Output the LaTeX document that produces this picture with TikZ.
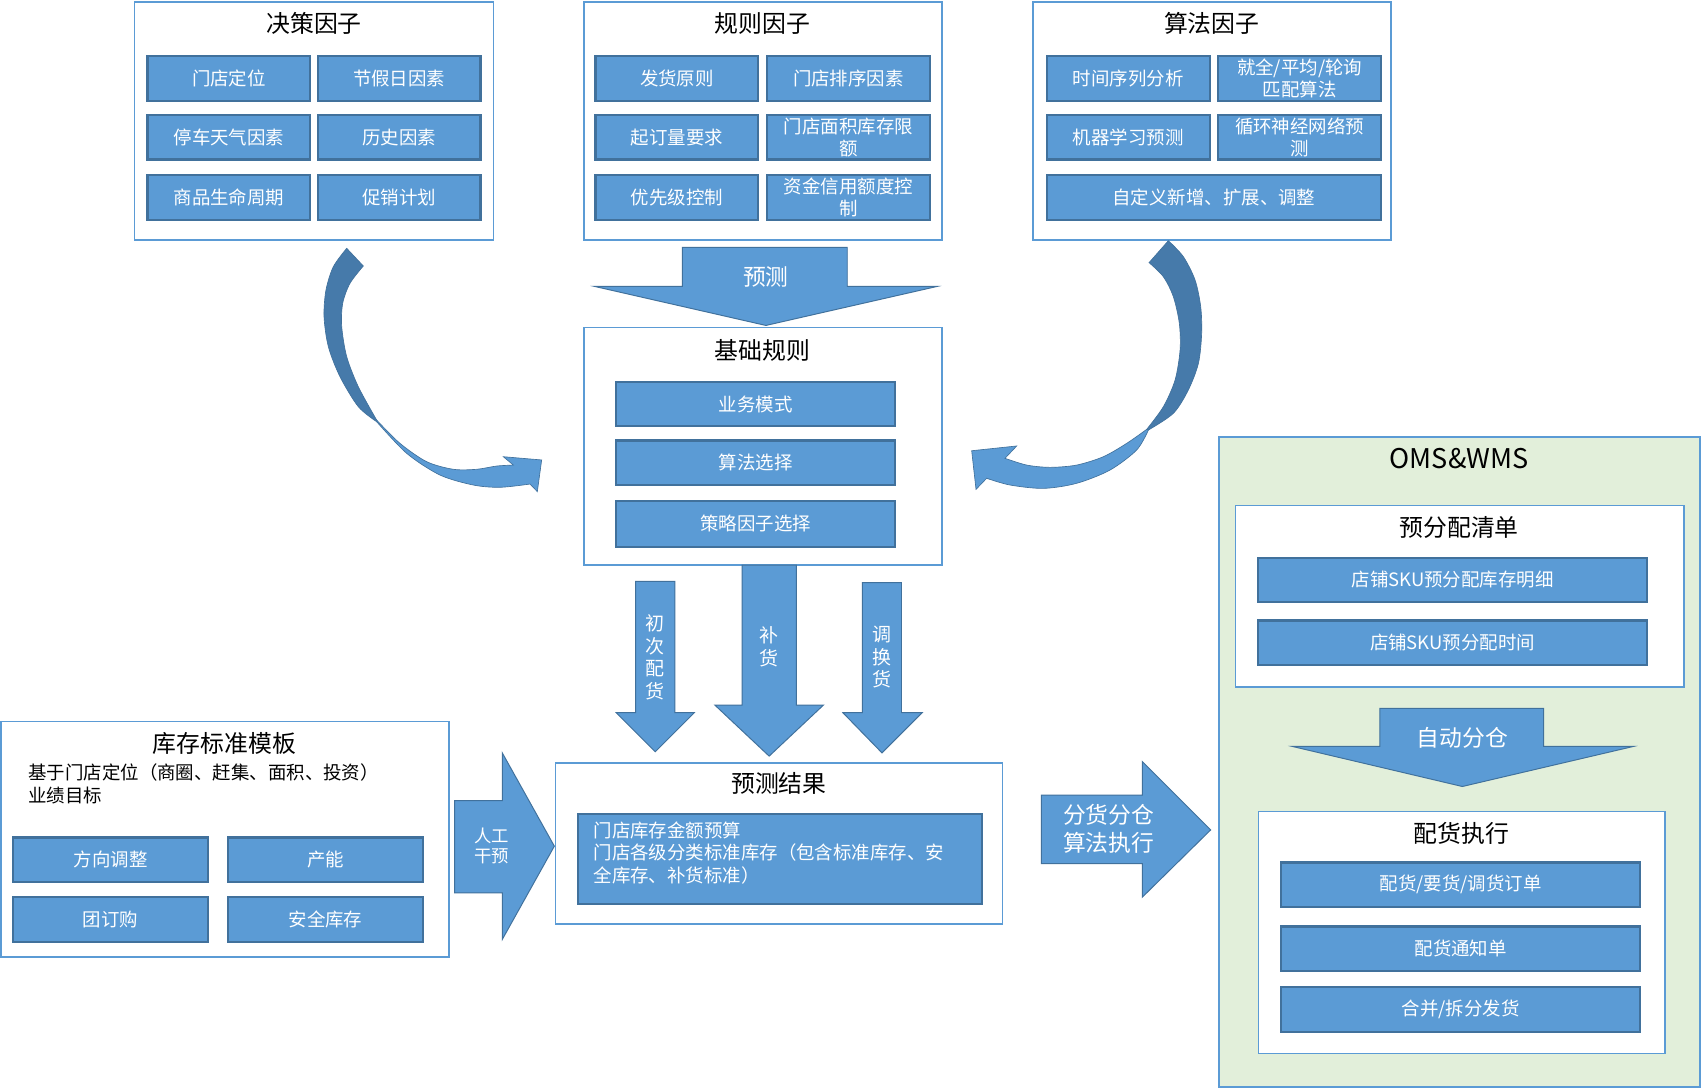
\documentclass[tikz,border=0pt]{standalone}
\usepackage{fontspec}
\setmainfont{Noto Sans CJK SC}
\definecolor{bfill}{HTML}{5B9BD5}
\definecolor{bdark}{HTML}{41719C}
\definecolor{gfill}{HTML}{E2EFDA}
\definecolor{cdark}{HTML}{467AAA}
\tikzset{
  obox/.style={draw=bfill, line width=1.6pt, fill=white, inner sep=0pt},
  gbox/.style={draw=bfill, line width=1.6pt, fill=gfill, inner sep=0pt},
  ibox/.style={draw=bdark, line width=2pt, fill=bfill, text=white, inner sep=0pt,
    font=\fontsize{17}{20}\selectfont, align=center},
  ttl/.style={font=\fontsize{22}{26}\selectfont, text=black, inner sep=0pt},
  plain/.style={font=\fontsize{17}{21}\selectfont, text=black, inner sep=0pt, align=left},
  barrow/.style={fill=bfill, draw=bdark, line width=0.9pt, line join=miter},
  atext/.style={text=white, inner sep=0pt, align=center, font=\fontsize{21}{25}\selectfont},
  vtext/.style={text=white, inner sep=0pt, align=center, font=\fontsize{17.5}{20.7}\selectfont},
  cdarkpart/.style={fill=cdark, draw=bdark, line width=0.6pt},
  clightpart/.style={fill=bfill, draw=bdark, line width=0.6pt, line join=miter},
}
\newcommand\mkbox[7]{\node[#1, minimum width={(#5)-(#3)}, minimum height={(#6)-(#4)}] (#2) at ({((#3)+(#5))/2},{((#4)+(#6))/2}) {#7};}
\begin{document}
\begin{tikzpicture}[x=1pt,y=-1pt]
\useasboundingbox (0,0) rectangle (1568,1003);
\fill[white] (0,0) rectangle (1568,1003);

% ---------- 决策因子 ----------
\mkbox{obox}{jc}{124}{2}{455}{221}{}
\node[ttl] (jct) at (289.5,22) {决策因子};
\mkbox{ibox}{jc1}{136}{52}{286}{93}{门店定位}
\mkbox{ibox}{jc2}{293}{52}{443}{93}{节假日因素}
\mkbox{ibox}{jc3}{136}{106}{286}{147}{停车天气因素}
\mkbox{ibox}{jc4}{293}{106}{443}{147}{历史因素}
\mkbox{ibox}{jc5}{136}{161}{286}{203}{商品生命周期}
\mkbox{ibox}{jc6}{293}{161}{443}{203}{促销计划}

% ---------- 规则因子 ----------
\mkbox{obox}{gz}{538}{2}{868}{221}{}
\node[ttl] (gzt) at (703,22) {规则因子};
\mkbox{ibox}{gz1}{549}{52}{699}{93}{发货原则}
\mkbox{ibox}{gz2}{707}{52}{857}{93}{门店排序因素}
\mkbox{ibox}{gz3}{549}{106}{699}{147}{起订量要求}
\mkbox{ibox}{gz4}{707}{106}{857}{147}{门店面积库存限\\额}
\mkbox{ibox}{gz5}{549}{161}{699}{203}{优先级控制}
\mkbox{ibox}{gz6}{707}{161}{857}{203}{资金信用额度控\\制}

% ---------- 算法因子 ----------
\mkbox{obox}{sf}{952}{2}{1282}{221}{}
\node[ttl] (sft) at (1117,22) {算法因子};
\mkbox{ibox}{sf1}{965}{52}{1115}{93}{时间序列分析}
\mkbox{ibox}{sf2}{1123}{52}{1273}{93}{就全/平均/轮询\\匹配算法}
\mkbox{ibox}{sf3}{965}{106}{1115}{147}{机器学习预测}
\mkbox{ibox}{sf4}{1123}{106}{1273}{147}{循环神经网络预\\测}
\mkbox{ibox}{sf5}{965}{161}{1273}{203}{自定义新增、扩展、调整}

% ---------- 基础规则 ----------
\mkbox{obox}{jz}{538}{302}{868}{521}{}
\node[ttl] (jzt) at (703,323) {基础规则};
\mkbox{ibox}{jz1}{568}{352}{825}{393}{业务模式}
\mkbox{ibox}{jz2}{568}{406}{825}{447}{算法选择}
\mkbox{ibox}{jz3}{568}{462}{825}{504}{策略因子选择}

% ---------- 预测 arrow ----------
\draw[barrow] (629,228) -- (781,228) -- (781,264) -- (864,264) -- (706,300) -- (548,264) -- (629,264) -- cycle;
\node[atext] (yct) at (706,255) {预测};

% ---------- 预测结果 ----------
\mkbox{obox}{yj}{512}{703}{924}{852}{}
\node[ttl] (yjt) at (718,722) {预测结果};
\mkbox{ibox}{yj1}{533}{750}{905}{833}{}
\node[plain, text=white, anchor=north west, font=\fontsize{17}{21}\selectfont] (yj1t) at (547,757)
  {门店库存金额预算\\门店各级分类标准库存（包含标准库存、安\\全库存、补货标准）};

% ---------- vertical arrows ----------
\draw[barrow] (586,536) -- (622,536) -- (622,657) -- (640,657) -- (604,693) -- (568,657) -- (586,657) -- cycle;
\node[vtext] (a1t) at (604,606) {初\\次\\配\\货};
\draw[barrow] (684,521) -- (734,521) -- (734,650) -- (759,650) -- (709,697) -- (659,650) -- (684,650) -- cycle;
\node[vtext] (a2t) at (709,596) {补\\货};
\draw[barrow] (795,537) -- (831,537) -- (831,657) -- (850,657) -- (813,694) -- (777,657) -- (795,657) -- cycle;
\node[vtext] (a3t) at (813,606) {调\\换\\货};

% ---------- 库存标准模板 ----------
\mkbox{obox}{kc}{1}{665}{414}{882}{}
\node[ttl] (kct) at (207,685) {库存标准模板};
\node[plain, anchor=north west] (kctx) at (26,704) {基于门店定位（商圈、赶集、面积、投资）\\业绩目标};
\mkbox{ibox}{kc1}{12}{772}{192}{813}{方向调整}
\mkbox{ibox}{kc2}{210}{772}{390}{813}{产能}
\mkbox{ibox}{kc3}{12}{827}{192}{868}{团订购}
\mkbox{ibox}{kc4}{210}{827}{390}{868}{安全库存}

% ---------- 人工干预 arrow ----------
\draw[barrow] (419,738) -- (463,738) -- (463,694) -- (511,780) -- (463,866) -- (463,823) -- (419,823) -- cycle;
\node[vtext, font=\fontsize{16}{18}\selectfont] (rgt) at (453,780) {人工\\干预};

% ---------- 分货分仓 arrow ----------
\draw[barrow] (960,733) -- (1053,733) -- (1053,702) -- (1116,765) -- (1053,827) -- (1053,796) -- (960,796) -- cycle;
\node[atext] (fht) at (1022,764) {分货分仓\\算法执行};

% ---------- OMS & WMS ----------
\mkbox{gbox}{oms}{1124}{403}{1567}{1002}{}
\node[ttl, font=\fontsize{25}{28}\selectfont] (omst) at (1345,423) {OMS\&WMS};
\mkbox{obox}{yf}{1139}{466}{1552}{633}{}
\node[ttl] (yft) at (1345,486) {预分配清单};
\mkbox{ibox}{yf1}{1160}{514}{1518}{555}{店铺SKU预分配库存明细}
\mkbox{ibox}{yf2}{1160}{572}{1518}{613}{店铺SKU预分配时间}

\draw[barrow] (1272,653) -- (1423,653) -- (1423,688) -- (1506,688) -- (1348,725) -- (1191,688) -- (1272,688) -- cycle;
\node[atext] (zdt) at (1348,680) {自动分仓};

\mkbox{obox}{ph}{1160}{748}{1535}{971}{}
\node[ttl] (pht) at (1347,768) {配货执行};
\mkbox{ibox}{ph1}{1181}{795}{1512}{836}{配货/要货/调货订单}
\mkbox{ibox}{ph2}{1181}{854}{1512}{895}{配货通知单}
\mkbox{ibox}{ph3}{1181}{910}{1512}{951}{合并/拆分发货}

% ---------- left curved arrow ----------
\path[cdarkpart] plot[smooth] coordinates {(319.6,228.9) (307.3,245.8) (300.5,267.3) (298.7,291.9) (302.7,319.6) (313.4,347.2) (330.3,374.9) (347.2,388.7)}
  -- plot[smooth] coordinates {(347.2,387.2) (330.3,356.5) (319.6,328.8) (315,301.1) (315.9,279.6) (322.6,261.2) (334.9,245.2)} -- cycle;
\path[clightpart] plot[smooth] coordinates {(347.2,388.7) (374.9,417.9) (405.6,437.9) (436.3,447.1) (460.9,449.2) (488.6,446.2)}
  -- (495.3,453.2) -- (499.3,424) -- (464,421) -- (473.2,428.7)
  -- plot[smooth] coordinates {(473.2,428.7) (457.8,429.6) (439.4,432.6) (417.9,432.6) (393.3,425.6) (368.7,408.7) (347.2,387.2)} -- cycle;

% ---------- right curved arrow ----------
\path[cdarkpart] plot[smooth] coordinates {(1077,221.9) (1090.8,236.6) (1101.6,258.1) (1106.8,282.7) (1107.7,307.3) (1104.7,334.9) (1095.4,359.5) (1081.6,381) (1058.6,396.4)}
  -- plot[smooth] coordinates {(1057,395.8) (1072.4,374.9) (1083.2,350.3) (1087.8,322.6) (1087.1,298) (1081.6,273.5) (1072.4,255.1) (1059.2,242.1)} -- cycle;
\path[clightpart] plot[smooth] coordinates {(1058.6,396.4) (1047.8,414.8) (1023.2,433.3) (992.5,445.5) (961.8,450.2) (931.1,447.1) (909.5,440.9)}
  -- (899.7,451.1) -- (895.7,415.5) -- (937.2,411.1) -- (926.4,422.5)
  -- plot[smooth] coordinates {(926.4,422.5) (946.4,428.7) (967.9,430.8) (992.5,428.7) (1017.1,421) (1038.6,408.7) (1057,395.8)} -- cycle;
\end{tikzpicture}
\end{document}
